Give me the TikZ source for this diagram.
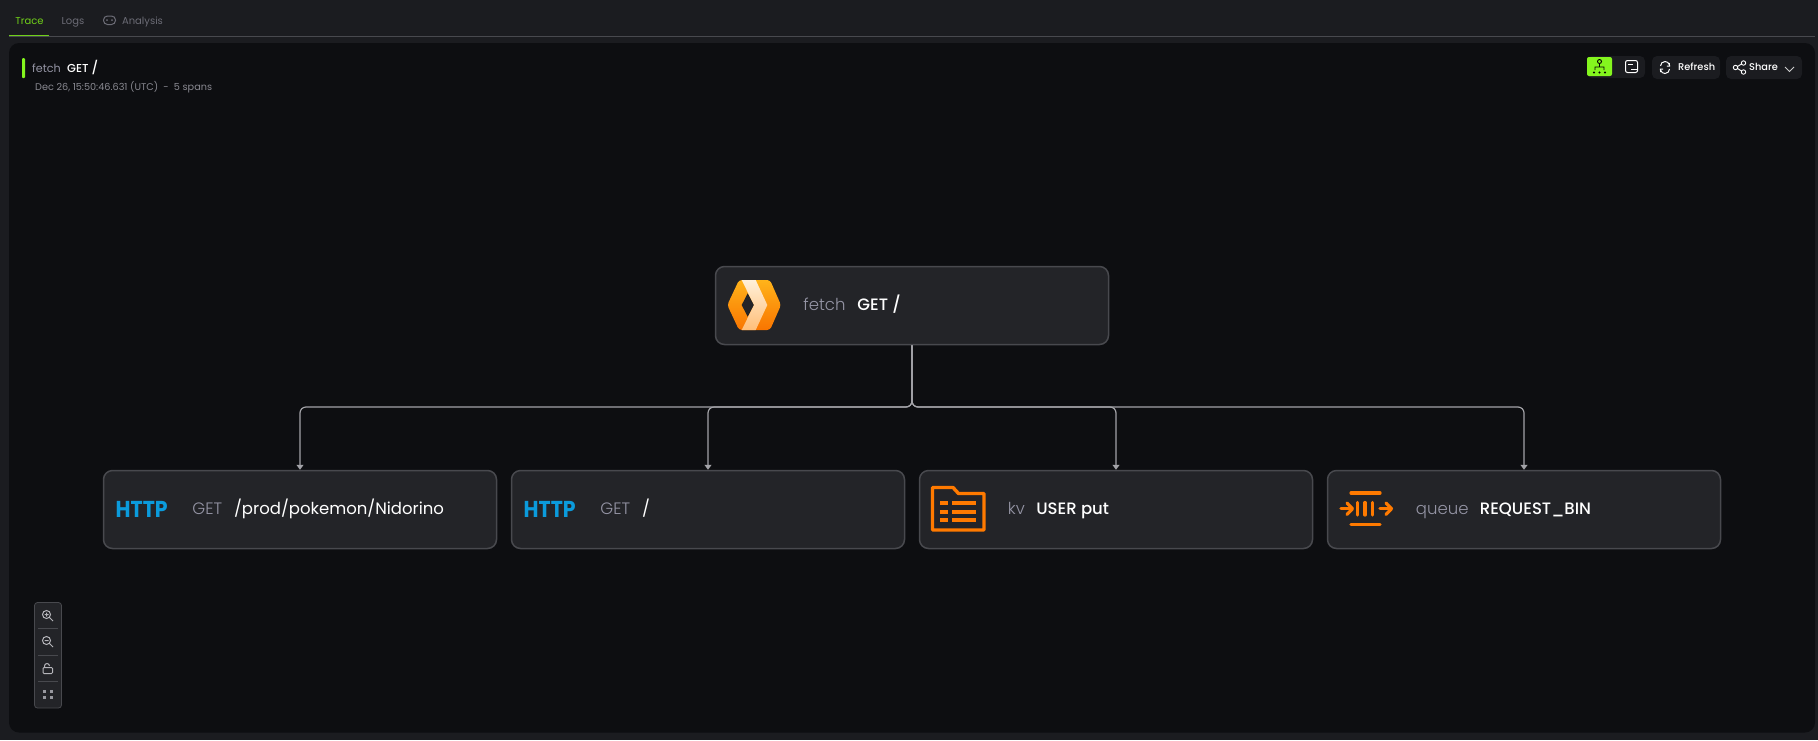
\documentclass[tikz,border=0pt]{standalone}
\usepackage{xcolor}
\usepackage{fontspec}
\setmainfont{Poppins}
\newfontfamily\boldface{Poppins Medium}
\newfontfamily\lightface{Poppins Light}
\newfontfamily\httpface[FakeStretch=0.89]{Poppins Bold}
\usetikzlibrary{arrows.meta,positioning,calc}
\definecolor{pagebg}{HTML}{1B1C20}
\definecolor{panelbg}{HTML}{0D0E11}
\definecolor{boxbg}{HTML}{232428}
\definecolor{boxline}{HTML}{48494E}
\definecolor{edgegray}{HTML}{A3A3A8}
\definecolor{kindgray}{HTML}{9494A4}
\definecolor{tabgray}{HTML}{6C6C76}
\definecolor{limegreen}{HTML}{84F51E}
\definecolor{iconorange}{HTML}{FF7A00}
\definecolor{httpblue}{HTML}{0B9BDC}
\begin{document}
\begin{tikzpicture}[x=1pt,y=-1pt,>={Triangle[width=7pt,length=5pt]},node distance=408pt]
	\tikzstyle{spanbox}=[draw=boxline,fill=boxbg,line width=1.5pt,rounded corners=9pt,minimum width=393pt,minimum height=78pt,inner sep=0pt]
	\tikzstyle{spantext}=[anchor=west,inner sep=0pt,text height=12.5pt,text depth=3.5pt,font=\fontsize{16.5}{16.5}\selectfont]
	\tikzstyle{edgeline}=[draw=edgegray,line width=1.2pt,rounded corners=6pt,->]
	\tikzstyle{icon}=[draw=iconorange,line width=3.2pt,line cap=round]
	\tikzstyle{btn}=[fill=pagebg,rounded corners=5pt]
	\tikzstyle{tiny}=[draw=#1,line width=1pt]
	\tikzstyle{tabtext}=[inner sep=0pt,text height=8pt,text depth=2pt,font=\fontsize{10}{10}\selectfont]
	\useasboundingbox (0,0) rectangle (1818,740);
	\fill[pagebg] (0,0) rectangle (1818,740);
	\fill[panelbg,rounded corners=10pt] (9,43) rectangle (1815,732.5);
	% tabs
	\draw[boxline,line width=1pt] (9,36.5) -- (1815,36.5);
	\draw[limegreen!85!black,line width=1.5pt] (9,35.5) -- (49,35.5);
	\node[tabtext,text=limegreen!85!black] (tabtrace) at (29.5,21) {Trace};
	\node[tabtext,text=tabgray] (tablogs) at (73,21) {Logs};
	\node[tabtext,text=tabgray] (tabanalysis) at (142.5,21) {Analysis};
	\draw[tiny=tabgray,rounded corners=4pt] (103.5,16) rectangle (115.5,24.5);
	\fill[tabgray] (107,20.2) circle (1pt) (112,20.2) circle (1pt);
	% header
	\fill[limegreen,rounded corners=1pt] (22,58) rectangle (25,78);
	\node[tabtext,anchor=west,text=kindgray,font=\fontsize{11.2}{11.2}\selectfont] (headkind) at (32,69) {fetch};
	\node[tabtext,anchor=west,text=white,font=\fontsize{11.5}{11.5}\boldface] (headname) at (67,69) {GET};
	\node[tabtext,anchor=west,text=white,font=\fontsize{13}{13}\boldface] (headslash) at (91.5,69) {/};
	\node[tabtext,anchor=west,text=tabgray!80!white,font=\fontsize{9.7}{9.7}\selectfont] (headsub) at (35,87) {Dec 26, 15:50:46.631 (UTC)\ \ -\ \ 5 spans};
	% buttons
	\fill[btn] (1587,56) rectangle (1645,78);
	\fill[limegreen,rounded corners=2pt] (1587,57) rectangle (1612,76);
	\draw[black,line width=.9pt] (1599.5,61.5) circle (2pt) (1599.5,63.5) -- (1599.5,67) (1595,70) -- (1595,67) -- (1604,67) -- (1604,70);
	\fill[black] (1594,72.5) circle (1.2pt) (1599.5,72.5) circle (1.2pt) (1605,72.5) circle (1.2pt);
	\draw[white,line width=1pt,rounded corners=2pt] (1625.5,60.5) rectangle (1637.5,72.5);
	\draw[white,line width=1pt] (1627.5,64) -- (1633,64) (1631,69) -- (1637.5,69);
	\fill[btn] (1652,56) rectangle (1720,79);
	\draw[white,line width=1pt] (1660.5,66) arc (180:340:4.5) (1669.5,69) arc (0:160:4.5);
	\draw[white,line width=1pt] (1669.2,63) -- (1669.6,66) -- (1666.8,66) (1660.6,72.2) -- (1660.4,69) -- (1663.2,69);
	\node[tabtext,anchor=west,text=white,font=\fontsize{9.8}{9.8}\boldface] (refreshtxt) at (1678,67.7) {Refresh};
	\fill[btn] (1726,56) rectangle (1802,79);
	\draw[white,line width=.9pt] (1735.5,67.5) circle (2.2pt) (1743.5,63) circle (2.2pt) (1743.5,72) circle (2.2pt) (1737.5,66.5) -- (1741.5,64) (1737.5,68.5) -- (1741.5,71);
	\node[tabtext,anchor=west,text=white,font=\fontsize{9.8}{9.8}\boldface] (sharetxt) at (1749,67.7) {Share};
	\draw[white!80!black,line width=1pt] (1785,67) -- (1789.5,71.5) -- (1794,67);
	% span nodes
	\node[spanbox] (root) at (912,305.5) {};
	\node[spanbox] (http1) at (300,509.5) {};
	\node[spanbox] (http2)[right of = http1] {};
	\node[spanbox] (kv)[right of = http2] {};
	\node[spanbox] (queue)[right of = kv] {};
	\coordinate (trunk) at (912,407);
	\path[edgeline]
		(root.south) -- (trunk) -| (http1.north);
	\path[edgeline]
		(root.south) -- (trunk) -| (http2.north);
	\path[edgeline]
		(root.south) -- (trunk) -| (kv.north);
	\path[edgeline]
		(root.south) -- (trunk) -| (queue.north);
	% span labels
	\node[spantext,text=kindgray] (rootkind) at ([xshift=88.5pt]root.west) {\lightface fetch};
	\node[spantext,text=white,right=11.5pt of rootkind,font=\fontsize{16.5}{16.5}\boldface] (rootname) {GET /};
	\node[spantext,text=kindgray] (h1kind) at ([xshift=89.5pt]http1.west) {\lightface GET};
	\node[spantext,text=white,right=11.5pt of h1kind] (h1name) {/prod/pokemon/Nidorino};
	\node[spantext,text=kindgray] (h2kind) at ([xshift=89.5pt]http2.west) {\lightface GET};
	\node[spantext,text=white,right=11.5pt of h2kind] (h2name) {/};
	\node[spantext,text=kindgray] (kvkind) at ([xshift=89pt]kv.west) {\lightface kv};
	\node[spantext,text=white,right=11pt of kvkind,font=\fontsize{16.5}{16.5}\boldface] (kvname) {USER put};
	\node[spantext,text=kindgray] (qkind) at ([xshift=89pt]queue.west) {\lightface queue};
	\node[spantext,text=white,right=11pt of qkind,font=\fontsize{16.5}{16.5}\boldface] (qname) {REQUEST\_BIN};
	% http logos
	\node[spantext,text height=16.5pt,text depth=0pt,text=httpblue,font=\fontsize{23}{23}\httpface] (h1logo) at (115.5,509) {HTTP};
	\node[spantext,text height=16.5pt,text depth=0pt,text=httpblue,font=\fontsize{23}{23}\httpface] (h2logo) at (523.5,509) {HTTP};
	% root logo
	\definecolor{logotop}{HTML}{FFB31A}
	\definecolor{logobot}{HTML}{F97500}
	\definecolor{chevtop}{HTML}{FFF0D8}
	\definecolor{chevbot}{HTML}{FFBE78}
	\shade[top color=logotop,bottom color=logobot,rounded corners=3pt] (727.3,305) -- (739,280) -- (770,280) -- (781,305) -- (770,330) -- (739,330) -- cycle;
	\fill[boxbg] (741.7,305) -- (747.7,293.3) -- (754,305) -- (747.7,316.7) -- cycle;
	\shade[top color=chevtop,bottom color=chevbot] (741.7,280) -- (755.7,280) -- (767.3,305) -- (755.7,330) -- (741.7,330) -- (754,305) -- cycle;
	% kv icon
	\draw[icon,line width=3.4pt,line join=round] (932.5,487.5) -- (953,487.5) -- (958.5,493.5) -- (984,493.5) -- (984,530) -- (932.5,530) -- cycle;
	\foreach \rowy in {503.3,511.7,520} {
		\draw[icon,line cap=butt,line width=3.8pt] (940.3,\rowy) -- (948.3,\rowy);
		\draw[icon,line cap=butt,line width=3.8pt] (952,\rowy) -- (976,\rowy);
	}
	% queue icon
	\draw[icon] (1351,493) -- (1380,493);
	\draw[icon] (1351,524.5) -- (1380,524.5);
	\draw[icon] (1341,508.7) -- (1352,508.7);
	\draw[icon,line join=round] (1347,503) -- (1352.5,508.7) -- (1347,514.4);
	\draw[icon] (1380,508.7) -- (1391.5,508.7);
	\draw[icon,line join=round] (1386,503) -- (1391.5,508.7) -- (1386,514.4);
	\foreach \barx in {1357.3,1365,1372.7}
		\draw[icon] (\barx,502.5) -- (\barx,515);
	% zoom controls
	\draw[draw=boxline,fill=boxbg,rounded corners=3pt,line width=.8pt] (34.5,602.5) rectangle (61.5,708);
	\foreach \sepy in {628,655,681}
		\draw[boxline,line width=.8pt] (38,\sepy) -- (58,\sepy);
	\draw[tiny=tabgray!50!white] (46.5,614.5) circle (4pt) (49.5,617.5) -- (53,621) (44.5,614.5) -- (48.5,614.5) (46.5,612.5) -- (46.5,616.5);
	\draw[tiny=tabgray!50!white] (46.5,640.5) circle (4pt) (49.5,643.5) -- (53,647) (44.5,640.5) -- (48.5,640.5);
	\draw[tiny=tabgray!50!white,rounded corners=1pt] (43,667.5) rectangle (52.5,673.5);
	\draw[tiny=tabgray!50!white] (44.5,667.5) -- (44.5,666) arc (180:360:2.5);
	\foreach \fitx/\fity in {42.5/690,49.5/690,42.5/696,49.5/696}
		\fill[tabgray!70!white] (\fitx,\fity) rectangle ++(3,3);
\end{tikzpicture}
\end{document}
